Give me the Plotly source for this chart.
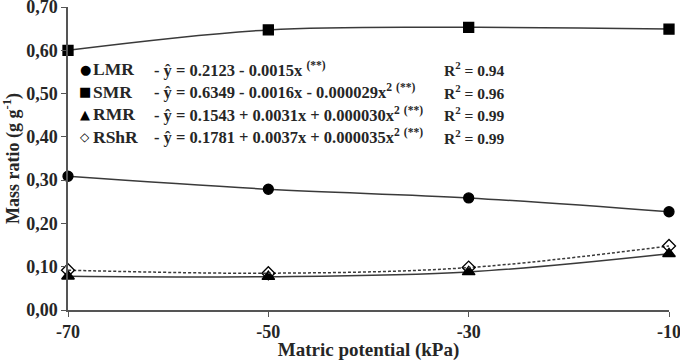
import plotly.graph_objects as go

# ---- data ----
potential = [-70, -50, -30, -10]
lmr = [0.309, 0.279, 0.259, 0.227]
smr = [0.600, 0.647, 0.653, 0.649]
rmr = [0.078, 0.077, 0.088, 0.130]
rshr = [0.092, 0.085, 0.098, 0.148]

series_names = ["LMR", "SMR", "RMR", "RShR"]
equations = [
    "- ŷ = 0.2123 - 0.0015x <sup>(**)</sup>",
    "- ŷ = 0.6349 - 0.0016x - 0.000029x<sup>2</sup> <sup>(**)</sup>",
    "- ŷ = 0.1543 + 0.0031x + 0.000030x<sup>2</sup> <sup>(**)</sup>",
    "- ŷ = 0.1781 + 0.0037x + 0.000035x<sup>2</sup> <sup>(**)</sup>",
]
r2_labels = ["R<sup>2</sup> = 0.94", "R<sup>2</sup> = 0.96",
             "R<sup>2</sup> = 0.99", "R<sup>2</sup> = 0.99"]
legend_symbols = ["●", "■", "▲", "◇"]
x_ticks = [-70, -50, -30, -10]
y_ticks = [0, 0.1, 0.2, 0.3, 0.4, 0.5, 0.6, 0.7]

# ---- layout geometry ----
W, H = 680, 361
L, R, T, B = 68, 11, 7, 51
pw, ph = W - L - R, H - T - B

def px_x(px):
    return (px - L) / pw

def px_y(py):
    return (H - B - py) / ph

TXT = "#262626"
SERIF = "Liberation Serif, Times New Roman, serif"

fig = go.Figure()

styles = [
    (lmr, "circle", "solid", "black"),
    (smr, "square", "solid", "black"),
    (rmr, "triangle-up", "solid", "black"),
    (rshr, "diamond-open", "3px,2px", "black"),
]
for (vals, sym, dash, col), name in zip(styles, series_names):
    fig.add_trace(go.Scatter(
        x=potential, y=vals, name=name, mode="lines+markers",
        line=dict(color="#3a3a3a", width=1.5, dash=dash, shape="spline", smoothing=1.0),
        marker=dict(symbol=sym, size=10 if sym != "triangle-up" else 11,
                    color=col, line=dict(color="black", width=1.3)),
        cliponaxis=False, showlegend=False,
    ))

annotations = []
rows_y = [69, 91.5, 114, 136.5]
for i, yy in enumerate(rows_y):
    annotations.append(dict(
        x=px_x(85), y=px_y(yy), xref="paper", yref="paper",
        text=legend_symbols[i], showarrow=False, xanchor="center", yanchor="middle",
        font=dict(family="DejaVu Sans", size=13 if i != 3 else 12, color="black"),
    ))
    annotations.append(dict(
        x=px_x(91), y=px_y(yy), xref="paper", yref="paper",
        text="<b>%s</b>" % series_names[i], showarrow=False, xanchor="left", yanchor="middle",
        font=dict(family=SERIF, size=17.5, color=TXT),
    ))
    annotations.append(dict(
        x=px_x(152), y=px_y(yy), xref="paper", yref="paper",
        text="<b>%s</b>" % equations[i], showarrow=False, xanchor="left", yanchor="middle",
        font=dict(family=SERIF, size=16.5, color=TXT),
    ))
    annotations.append(dict(
        x=px_x(442), y=px_y(yy), xref="paper", yref="paper",
        text="<b>%s</b>" % r2_labels[i], showarrow=False, xanchor="left", yanchor="middle",
        font=dict(family=SERIF, size=15.5, color=TXT),
    ))

fig.update_layout(
    width=W, height=H,
    margin=dict(l=L, r=R, t=T, b=B, pad=0),
    paper_bgcolor="white", plot_bgcolor="white",
    separators=", ",
    font=dict(family=SERIF, color=TXT),
    annotations=annotations,
    xaxis=dict(
        range=[-70, -10], tickvals=x_ticks, ticktext=["<b>%d</b>" % v for v in x_ticks],
        showgrid=False, zeroline=False, showline=True, linecolor="#555", linewidth=1.5,
        ticks="outside", ticklen=5, tickcolor="#555", tickwidth=1.2,
        ticklabeloverflow="allow", automargin=False,
        tickfont=dict(family=SERIF, size=18, color=TXT),
        title=dict(text="<b>Matric potential (kPa)</b>", font=dict(family=SERIF, size=19, color=TXT), standoff=0),
    ),
    yaxis=dict(
        range=[0, 0.70], tickvals=y_ticks,
        ticktext=["<b>%s</b>" % ("%.2f" % v).replace(".", ",") for v in y_ticks],
        showgrid=False, zeroline=False, showline=True, linecolor="#555", linewidth=1.5,
        ticks="outside", ticklen=5, tickcolor="#555", tickwidth=1.2,
        ticklabeloverflow="allow", automargin=False,
        tickfont=dict(family=SERIF, size=18, color=TXT),
        title=dict(text="<b>Mass ratio (g g<sup>-1</sup>)</b>", font=dict(family=SERIF, size=18, color=TXT), standoff=4),
    ),
)

fig.write_html("out.html")
